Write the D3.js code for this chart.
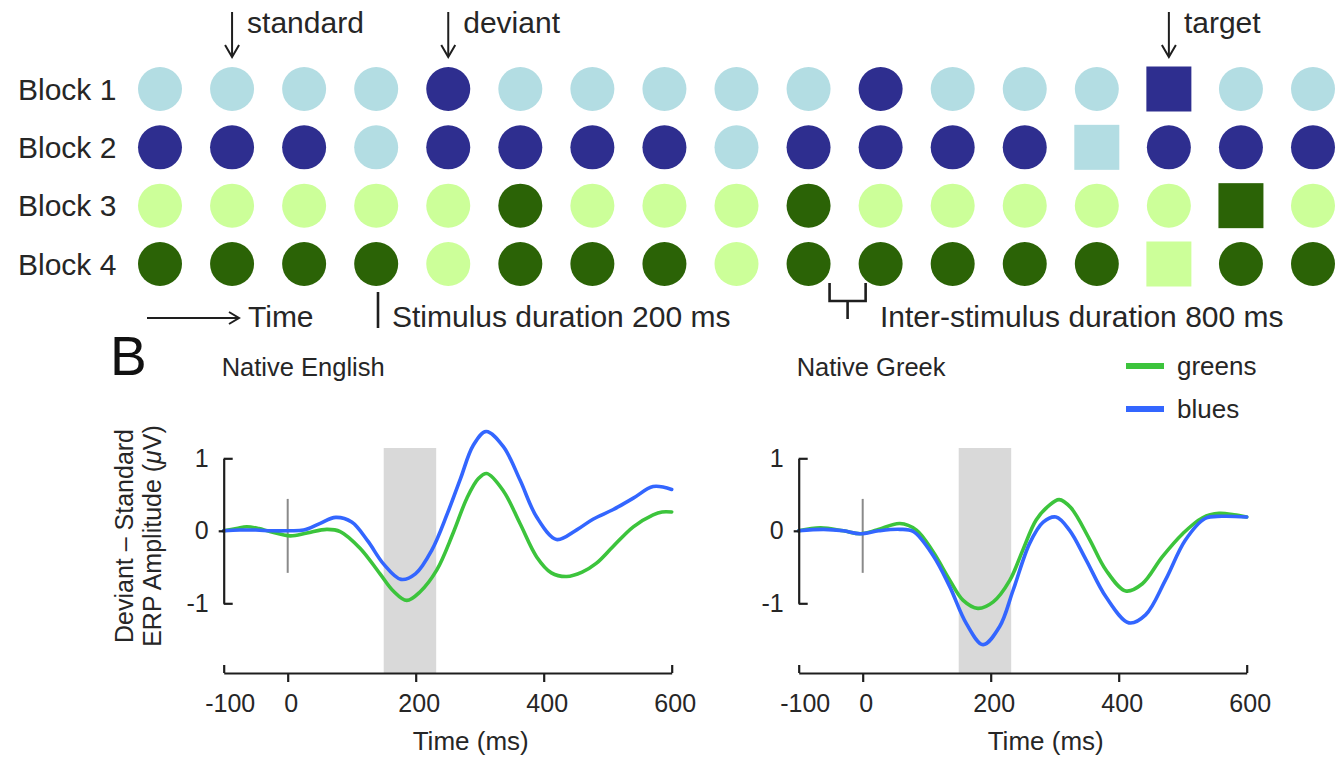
<!DOCTYPE html>
<html><head><meta charset="utf-8">
<script src="https://cdn.jsdelivr.net/npm/d3@7"></script>
<style>
html,body{margin:0;padding:0;background:#fff;}
svg{display:block;font-family:"Liberation Sans",Arial,Helvetica,sans-serif;}
</style></head><body>
<svg id="fig" width="1340" height="765"></svg>
<script>
// ---------- Panel A: oddball stimulus sequence ----------
const blocks = ["Block 1", "Block 2", "Block 3", "Block 4"];
const trialCount = 17;
const standardColors = ["#b3dde3", "#2e2e8f", "#ccff99", "#2b6306"];
const deviantColors  = ["#2e2e8f", "#b3dde3", "#2b6306", "#ccff99"];
const deviantTrials  = [[5, 11], [4, 9], [6, 10], [5, 9]];
const targetTrials   = [15, 14, 16, 15];
const pointerLabels  = ["standard", "deviant", "target"];
const pointerTrials  = [2, 5, 15];

// ---------- Panel B: deviant minus standard difference waves ----------
const timeTicks = [-100, 0, 200, 400, 600];
const ampTicks = [-1, 0, 1];
const seriesNames = ["greens", "blues"];
const seriesColors = ["#3cc43c", "#3366ff"];
const analysisWindow = [150, 232];

const englishGreensT = [-100, -80, -64, -45, -28, 4, 30, 61, 82, 113, 144, 165, 186, 207, 233, 259, 280, 298, 311, 337, 363, 389, 412, 436, 460, 482, 508, 540, 571, 585, 600];
const englishGreensV = [0, 0.03, 0.055, 0.03, -0.01, -0.07, -0.03, 0.02, -0.01, -0.24, -0.59, -0.83, -0.96, -0.84, -0.54, -0.02, 0.45, 0.72, 0.79, 0.55, 0.10, -0.36, -0.58, -0.63, -0.57, -0.45, -0.22, 0.055, 0.22, 0.26, 0.26];
const englishBluesT = [-100, -75, -50, -25, 0, 25, 50, 75, 100, 125, 150, 177, 200, 225, 250, 270, 290, 310, 337, 363, 389, 420, 451, 477, 508, 540, 571, 600];
const englishBluesV = [0, 0.01, 0.01, 0, 0, 0.01, 0.10, 0.185, 0.12, -0.14, -0.46, -0.67, -0.59, -0.27, 0.25, 0.72, 1.18, 1.37, 1.16, 0.70, 0.19, -0.12, 0.01, 0.16, 0.29, 0.45, 0.61, 0.57];

const greekGreensT = [-100, -66, -30, -4, 22, 58, 84, 110, 136, 157, 180, 204, 230, 250, 271, 290, 307, 325, 354, 380, 411, 437, 468, 500, 531, 557, 580, 600];
const greekGreensV = [0, 0.04, 0, -0.04, 0.01, 0.10, 0.01, -0.29, -0.68, -0.96, -1.07, -0.98, -0.68, -0.27, 0.15, 0.34, 0.43, 0.32, -0.11, -0.54, -0.83, -0.73, -0.36, -0.04, 0.18, 0.24, 0.22, 0.19];
const greekBluesT = [-100, -61, -30, -4, 25, 58, 79, 110, 136, 162, 188, 214, 235, 261, 282, 302, 323, 349, 380, 416, 442, 473, 504, 535, 561, 600];
const greekBluesV = [0, 0.02, 0, -0.04, 0, 0.02, -0.01, -0.34, -0.77, -1.28, -1.57, -1.32, -0.82, -0.17, 0.12, 0.19, 0.01, -0.40, -0.91, -1.27, -1.16, -0.68, -0.13, 0.17, 0.20, 0.19];

const svg = d3.select("#fig");
svg.append("rect").attr("width", 1340).attr("height", 765).attr("fill", "#fff");

const ink = "#1e1e1e";
const textInk = "#262626";
const topFont = 30;

// ---------- Panel A drawing ----------
const colX = d3.scaleLinear().domain([1, trialCount]).range([160, 1313]);
const rowY = d3.scalePoint().domain(blocks).range([89, 264]);
const stimR = 22, squareSide = 45;

const A = svg.append("g").attr("class", "panel-a");

A.selectAll("text.block").data(blocks).join("text")
  .attr("class", "block")
  .attr("x", 18).attr("y", d => rowY(d)).attr("dy", "0.36em")
  .attr("font-size", topFont).attr("fill", textInk).text(d => d);

blocks.forEach((b, bi) => {
  const trials = d3.range(1, trialCount + 1).map(t => ({
    t,
    kind: t === targetTrials[bi] ? "target" : (deviantTrials[bi].includes(t) ? "deviant" : "standard")
  }));
  const row = A.append("g");
  row.selectAll("circle").data(trials.filter(d => d.kind !== "target")).join("circle")
    .attr("cx", d => colX(d.t)).attr("cy", rowY(b)).attr("r", stimR)
    .attr("fill", d => d.kind === "deviant" ? deviantColors[bi] : standardColors[bi]);
  row.selectAll("rect").data(trials.filter(d => d.kind === "target")).join("rect")
    .attr("x", d => colX(d.t) - squareSide / 2).attr("y", rowY(b) - squareSide / 2)
    .attr("width", squareSide).attr("height", squareSide)
    .attr("fill", deviantColors[bi]);
});

// pointers above Block 1
pointerTrials.forEach((t, i) => {
  const x = colX(t);
  const g = A.append("g").attr("stroke", ink).attr("stroke-width", 2).attr("fill", "none");
  g.append("line").attr("x1", x).attr("x2", x).attr("y1", 12).attr("y2", 56);
  g.append("polyline").attr("points", `${x - 7},45 ${x},57 ${x + 7},45`);
  A.append("text").attr("x", x + 15).attr("y", 33)
    .attr("font-size", topFont).attr("fill", textInk).text(pointerLabels[i]);
});

// time arrow
const tArrow = A.append("g").attr("stroke", ink).attr("stroke-width", 2).attr("fill", "none");
tArrow.append("line").attr("x1", 147).attr("x2", 238).attr("y1", 318).attr("y2", 318);
tArrow.append("polyline").attr("points", "229,312 239,318 229,324");
A.append("text").attr("x", 248).attr("y", 327).attr("font-size", topFont).attr("fill", textInk).text("Time");

// stimulus duration marker
A.append("line").attr("x1", 378).attr("x2", 378).attr("y1", 292).attr("y2", 328)
  .attr("stroke", ink).attr("stroke-width", 2.6);
A.append("text").attr("x", 392).attr("y", 327).attr("font-size", topFont).attr("fill", textInk)
  .text("Stimulus duration 200 ms");

// inter-stimulus bracket between trials 10 and 11 of Block 4
const bx0 = colX(10) + stimR - 1, bx1 = colX(11) - stimR + 7, bmid = (bx0 + bx1) / 2;
A.append("path")
  .attr("d", `M${bx0},283V301H${bx1}V283M${bmid},301V319`)
  .attr("stroke", ink).attr("stroke-width", 2.6).attr("fill", "none");
A.append("text").attr("x", 880).attr("y", 327).attr("font-size", topFont).attr("fill", textInk)
  .text("Inter-stimulus duration 800 ms");

// ---------- Panel B drawing ----------
svg.append("text").attr("x", 110).attr("y", 375).attr("font-size", 55).attr("fill", "#111").text("B");

const plotW = 448;
const y = d3.scaleLinear().domain([-1, 1]).range([603.3, 458.3]);
const xAxisY = 673, shadeTop = 448;

function drawPanel(x0, title, greensT, greensV, bluesT, bluesV) {
  const x = d3.scaleLinear().domain([-100, 600]).range([x0, x0 + plotW]);
  const g = svg.append("g");

  g.append("text").attr("x", x0 - 2).attr("y", 367).attr("dy", "0.36em")
    .attr("font-size", 25.5).attr("fill", textInk).text(title);

  g.append("rect")
    .attr("x", x(analysisWindow[0])).attr("width", x(analysisWindow[1]) - x(analysisWindow[0]))
    .attr("y", shadeTop).attr("height", xAxisY - shadeTop)
    .attr("fill", "#d9d9d9");

  // stimulus onset marker
  g.append("line").attr("x1", x(0)).attr("x2", x(0)).attr("y1", y(0.44)).attr("y2", y(-0.58))
    .attr("stroke", "#8a8a8a").attr("stroke-width", 2);

  const line = d3.line().x(d => x(d[0])).y(d => y(d[1])).curve(d3.curveCatmullRom.alpha(0.5));
  const series = [d3.zip(greensT, greensV), d3.zip(bluesT, bluesV)];
  series.forEach((s, i) => {
    g.append("path").datum(s).attr("d", line)
      .attr("fill", "none").attr("stroke", seriesColors[i]).attr("stroke-width", 3.6)
      .attr("stroke-linejoin", "round").attr("stroke-linecap", "round");
  });

  // x axis: inner ticks point down, end caps point up
  const xa = g.append("g").attr("transform", `translate(0,${xAxisY})`)
    .call(d3.axisBottom(x).tickValues(timeTicks).tickSize(9).tickSizeOuter(0).tickPadding(12)
      .tickFormat(d => String(d)));
  xa.select(".domain").attr("stroke", ink).attr("stroke-width", 2.2);
  xa.selectAll(".tick line").attr("stroke", ink).attr("stroke-width", 2.2)
    .attr("y2", d => (d === timeTicks[0] || d === timeTicks[timeTicks.length - 1]) ? -8 : 9);
  xa.selectAll(".tick text").attr("font-size", 25).attr("fill", textInk)
    .attr("font-family", null).attr("dx", d => d < 0 ? 6 : 3);

  g.append("text").attr("x", x0 + 247).attr("y", 750)
    .attr("text-anchor", "middle").attr("font-size", 26).attr("fill", textInk).text("Time (ms)");

  // y axis: ±1 end caps point inward, zero tick points out
  const ya = g.append("g").attr("transform", `translate(${x0},0)`)
    .call(d3.axisLeft(y).tickValues(ampTicks).tickSize(5).tickSizeOuter(0).tickPadding(10)
      .tickFormat(d => String(d)));
  ya.select(".domain").attr("stroke", ink).attr("stroke-width", 2.2);
  ya.selectAll(".tick line").attr("stroke", ink).attr("stroke-width", 2.2)
    .attr("x2", d => d === 0 ? -5 : 9);
  ya.selectAll(".tick text").attr("font-size", 25).attr("fill", textInk).attr("font-family", null);
  return x;
}

drawPanel(223.7, "Native English", englishGreensT, englishGreensV, englishBluesT, englishBluesV);
drawPanel(798.7, "Native Greek", greekGreensT, greekGreensV, greekBluesT, greekBluesV);

// y axis title
const yTitle = svg.append("text").attr("transform", "translate(0,536) rotate(-90)")
  .attr("text-anchor", "middle").attr("font-size", 25).attr("fill", textInk);
yTitle.append("tspan").attr("x", 0).attr("y", 133).text("Deviant \u2013 Standard");
const l2 = yTitle.append("tspan").attr("x", 0).attr("y", 161);
l2.append("tspan").text("ERP Amplitude (");
l2.append("tspan").attr("font-style", "italic").text("\u03bc");
l2.append("tspan").text("V)");

// legend
const legend = svg.append("g");
seriesNames.forEach((name, i) => {
  const ly = 366 + i * 43;
  legend.append("line").attr("x1", 1126).attr("x2", 1164).attr("y1", ly).attr("y2", ly)
    .attr("stroke", seriesColors[i]).attr("stroke-width", 6);
  legend.append("text").attr("x", 1177).attr("y", ly).attr("dy", "0.36em")
    .attr("font-size", 26).attr("fill", textInk).text(name);
});
</script>
</body></html>
